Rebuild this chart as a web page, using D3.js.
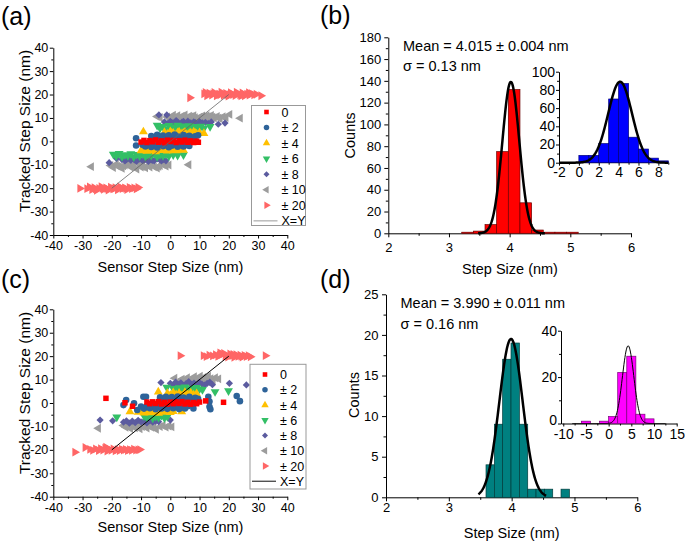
<!DOCTYPE html>
<html><head><meta charset="utf-8">
<script src="https://cdn.jsdelivr.net/npm/d3@7/dist/d3.min.js"></script>
<style>
body{margin:0;background:#fff;}
svg text{font-family:"Liberation Sans",Arial,sans-serif;fill:#000;}
</style></head><body>
<svg id="fig" width="685" height="541"></svg>
<script>
// ---------------- DATA ----------------
const seriesNames = ["0", "± 2", "± 4", "± 6", "± 8", "± 10", "± 20"];
const xyLine = [[-20, -20], [20, 20]];

// panel (a)
const a0 = [[-10,-0.3],[-9,0.4],[-8,-0.5],[-7,0.3],[-6,-0.2],[-5,0.6],[-4,-0.4],[-3,0.2],[-2,-0.6],[-1,0.5],[0,-0.1],[1,0.4],[2,-0.5],[3,0.3],[4,-0.3],[5,0.5],[6,-0.4],[7,0.2],[8,-0.5],[9,0.1],[9.6,-0.4]];
const a2 = [[-11.7,1.3],[-6.5,2.3],[-5.5,1.6],[-4.5,2.8],[-3.5,1.9],[-2.5,2.5],[-1.5,1.4],[-0.5,2.6],[0.5,1.8],[1.5,2.9],[2.5,2.1],[3.5,1.5],[4.5,2.7],[5.5,1.9],[6.5,2.4],[7.5,1.6],[8.5,2.2],[9.5,2.6],
  [-11.7,-1.8],[-9.5,-1.5],[-8.5,-2.2],[-7.5,-1.3],[-6.5,-2.4],[-5.5,-1.7],[-4.5,-2.6],[-3.5,-1.4],[-2.5,-2.1],[-1.5,-1.6],[-0.5,-2.5],[0.5,-1.9],[1.5,-1.3],[2.5,-2.3],[3.5,-1.6],[4.5,-2.2],[5.5,-1.5],[6.5,-2.0]];
const a4 = [[-9.2,4.1],[-2,3.8],[-1,3.1],[0,4.2],[0.5,3.5],[1,3.5],[2,2.9],[2.5,3.7],[3,4.0],[4,3.3],[4.5,3.5],[5,3.9],[6,2.8],[6.5,3.4],[7,3.6],[8,4.1],[8.5,3.5],[9,3.2],[10,3.7],[11.5,3.4],
  [-10,-4],[-9,-3.4],[-8.5,-3.7],[-8,-4.2],[-7,-3.3],[-6.5,-3.6],[-6,-3.9],[-5,-4.4],[-4.5,-3.9],[-4,-3.5],[-3,-3.9],[-2.5,-3.6],[-2,-3.2],[-1,-4.1],[-0.5,-3.8],[0,-3.6],[1,-3.3],[1.5,-3.7],[2,-4.0],[3,-3.6],[4.5,-3.8]];
const a6 = [[-4.5,6.8],[-3.5,5.6],[-2.5,6.3],[-1.5,5.2],[-0.5,6.7],[0,6],[0.5,5.5],[1.5,6.1],[2,5.8],[2.5,6.9],[3.5,5.4],[4,6.5],[4.5,6.2],[5.5,5.7],[6,5.9],[6.5,6.6],[7.5,5.3],[8,6.3],[8.5,6.1],[9.5,5.8],[10,5.9],[10.5,6.4],[11.5,5.6],[13.6,6.3],
  [-19.5,-5.5],[-18.5,-6.2],[-17.5,-5.2],[-16.5,-6.5],[-15.5,-5.7],[-14.5,-6.1],[-13.5,-5.3],[-12.5,-6.6],[-11.5,-5.6],[-10.5,-6.2],[-9.5,-5.4],[-8.5,-6.4],[-7.5,-5.8],[-6.5,-6.0],[-5.5,-5.3],[-4.5,-6.5],[-3.5,-5.7],[-2.5,-6.1],[-1.5,-5.5],[-0.5,-6.3],[1,-5.8],[2.5,-6],[4.5,-5.8]];
const a8 = [[-3.9,11.3],[-1.2,11.3],[-2,8.3],[-1,7.6],[0,8.5],[0.5,8],[1,7.8],[2,8.9],[2.5,8.2],[3,7.5],[4,8.2],[4.5,8.5],[5,7.7],[6,8.6],[6.5,7.6],[7,7.9],[8,8.3],[8.5,8],[9,7.6],[10,8.4],[10.5,7.8],[11,7.9],[12,8.1],[13,7.7],[14,8.3],[16.4,7.3],[18.7,7.8],
  [-20.9,-9.1],[-18.4,-7.3],[-16.5,-7.8],[-15.5,-8.4],[-15,-7.8],[-14.5,-7.3],[-13.5,-8.1],[-12.5,-7.6],[-12,-8.1],[-11.5,-8.5],[-10.5,-7.5],[-9.5,-8.2],[-9,-8],[-8.5,-7.7],[-7.5,-8.6],[-6.5,-7.9],[-6,-8.1],[-5.5,-8.3],[-4.5,-7.5],[-3.5,-8],[-3,-8.3],[-2.5,-7.8],[-1.5,-8.3]];
const a10 = [[-4.5,10.6],[-3.5,10.2],[-1,10.4],[0,9.6],[0.5,10.5],[1,11.2],[2,10.1],[2.5,11],[3,9.5],[4,10.8],[4.5,9.9],[5,11.3],[6,9.8],[6.5,10.8],[7,10.5],[8,11.0],[8.5,10.1],[9,9.6],[10,10.3],[10.5,9.9],[11,10.9],[12,9.7],[12.5,11],[13,10.4],[14,11.1],[14.5,10.3],[15,10.0],[16,10.6],[16.5,9.9],[17,9.8],[18,10.5],[19,10.2],[20.3,11.5],[23.9,9.9],
  [-27,-10.8],[-20.4,-10.3],[-19.5,-11.2],[-18.5,-9.8],[-18,-10.6],[-17.5,-10.8],[-16.5,-11.5],[-16,-10.5],[-15.5,-10.1],[-14.5,-9.6],[-13.5,-11],[-13,-10.2],[-12.5,-10.4],[-11.5,-11.8],[-10.5,-9.9],[-10,-11],[-9.5,-10.7],[-8.5,-11.3],[-7.5,-10.2],[-7,-11],[-6.5,-9.7],[-5.5,-10.9],[-4.5,-11.4],[-4,-10.7],[-3.5,-10.3],[-2.5,-9.9],[-1.5,-10.6],[-0.5,-10.1],[6.3,-10]];
const a20 = [[6.7,18.6],[11.5,20.3],[12,20.9],[12.5,19.5],[13.3,20.6],[14.2,19.8],[14.6,20.3],[15,20.9],[15.8,19.4],[16.6,20.2],[17,19.9],[17.4,21.0],[18.2,19.7],[19,20.5],[19.4,19.9],[19.8,19.3],[20.2,19.9],[20.6,20.8],[21.4,20.0],[22.2,19.6],[22.6,21],[23,20.4],[23.8,19.9],[24.2,19.4],[24.6,20.7],[25,20.1],[25.4,19.5],[26.2,20.2],[26.8,20.8],[27,19.8],[27.8,20.4],[28.6,19.9],[29.4,20.1],[31,19.5],
  [-30.9,-20.1],[-28.5,-20.2],[-27.6,-19.5],[-26.8,-20.6],[-26,-19.8],[-25.6,-20.3],[-25.2,-20.9],[-24.4,-20.1],[-23.6,-19.4],[-23.2,-20.1],[-22.8,-20.5],[-22,-19.9],[-21.6,-20.2],[-21.2,-20.8],[-20.4,-19.6],[-19.6,-20.3],[-19.2,-20.2],[-18.8,-19.8],[-18,-20.7],[-17.6,-20.1],[-17.2,-19.5],[-16.4,-20.2],[-15.6,-19.9],[-15.2,-20.1],[-14.8,-20.6],[-14,-19.7],[-13.2,-20.2],[-12.4,-19.9],[-11.6,-20.3],[-11,-19.7]];

// panel (c)
const c0 = [[-22,2],[-15.5,0.1],[-12.9,-1.4],[-8,0.4],[-7,-0.3],[-6,0.5],[-5,-0.2],[-4,0.6],[-3,-0.4],[-2,0.3],[-1,-0.5],[0,0.4],[1,-0.3],[2,0.5],[3,-0.2],[4,0.6],[5,-0.4],[6,0.3],[7,-0.5],[8,0.2],[9,-0.3],[10,0.4],[12.1,0.9],[18.2,0.3]];
const c2 = [[-15.1,1.3],[-9.2,2.7],[-8.3,2.7],[-12.4,-0.1],[-3.5,2.4],[-2.5,1.5],[-1.5,2.7],[-0.5,1.8],[0.5,2.5],[1.5,1.4],[2.5,2.8],[3.5,1.9],[4.5,2.3],[5.5,1.5],[6.5,2.6],[7.5,1.7],[8.5,2.2],[9.5,1.8],[13,2.7],[13.4,0.6],[22.7,3],[23.8,0.8],
  [-16,-0.9],[-11.3,-3],[-10,-1.5],[-9,-2.4],[-8,-1.3],[-7,-2.2],[-6,-1.6],[-5,-2.7],[-4,-1.4],[-3,-2.3],[-2,-1.7],[-1,-2.5],[0,-1.2],[1,-2.2],[2,-1.5],[3,-2.6],[4,-1.8],[5,-2.3],[6,-1.4],[7.9,-2.3],[13.4,-1.6],[13.7,-2.7]];
const c4 = [[-4.1,4.7],[-1,4.1],[0,3.4],[1,4.4],[2,3.6],[3,4.2],[4,3.2],[5,4.5],[6,3.7],[7,4.3],[8,3.5],[9,4],
  [-13.8,-3.7],[-11,-3.9],[-10,-3.2],[-9,-4.2],[-8,-3.4],[-7,-4.1],[-6,-3.3],[-5,-3.9],[-4,-4.3],[-3,-3.5],[-2,-3.9],[-1,-3.3],[0,-4],[1,-3.6],[3.9,-3.7]];
const c6 = [[-1.2,6.7],[1,6.2],[2,5.6],[3,6.5],[4,5.9],[5,6.8],[6,5.7],[7,6.3],[8,5.8],[9,6.6],[10,6],[11,5.7],[15.3,4.8],[19.9,5.2],
  [-18.3,-6],[-9,-5.5],[-8,-6.3],[-7,-5.4],[-6,-6.5],[-5,-5.7],[-4,-6.2],[-3,-5.3],[-2,-6.4],[-1,-5.8]];
const c8 = [[-3.2,8.7],[0,8.4],[0.9,7.6],[1.8,8.9],[2.7,7.8],[3.6,8.6],[4.5,7.4],[5.4,8.3],[6.3,9.1],[7.2,7.9],[8.1,8.5],[9,7.5],[9.9,8.8],[10.8,8.1],[11.7,7.6],[12.6,8.4],[13.5,8.9],[14.4,7.8],[20.2,8.4],[26,7.7],
  [-24,-7.3],[-19.7,-7.6],[-16,-8.2],[-15,-7.6],[-14,-8.6],[-13,-7.7],[-12,-8.4],[-11,-7.4],[-10,-8.1],[-9,-7.8],[-8,-8.5],[-7,-7.5],[-6,-8.2],[-5,-7.7],[-4,-8],[0,-7.3]];
const c10 = [[1.5,10.6],[3.2,9.4],[4,10.2],[5,9.1],[5.8,10.8],[6.6,9.6],[7.4,10.3],[7.8,9.2],[8.2,11.2],[9,9.8],[9.8,10.5],[10.2,11.4],[10.6,9.3],[11.4,10.9],[12.2,10.1],[12.6,9.2],[13,11.4],[13.8,10.4],[14.6,9.6],[15.4,10.8],[16.5,10.3],
  [-24.6,-10.8],[-16,-9.6],[-15.2,-10.4],[-14.4,-9.4],[-13.6,-10.9],[-12.8,-9.8],[-12,-10.6],[-11.2,-9.5],[-10.4,-11],[-9.6,-10.1],[-8.8,-9.4],[-8,-10.7],[-7.2,-9.9],[-6.4,-10.4],[-5.6,-9.6],[-4.8,-11.2],[-3.5,-10.1],[-2.5,-9.6],[-1.5,-10.3],[-0.5,-9.8],[0.5,-10.2]];
const c20 = [[3.4,20.2],[11.3,20.2],[12.3,19.8],[13.3,20.4],[14.5,20.1],[15.5,20.6],[16.3,19.9],[16.8,20.4],[17,21.4],[17.6,20.8],[18.3,21.2],[18.8,19.8],[19,20.3],[19.7,19.6],[20.4,20.9],[21.1,20.2],[21.5,20.7],[21.8,19.5],[22.5,20.6],[23.2,19.9],[23.9,20.4],[24.2,20.0],[24.6,19.6],[25.3,20.3],[26,19.8],[26.7,20.2],[27.4,19.7],[32.5,20.2],
  [-32.6,-21],[-29.1,-19],[-27.5,-19.8],[-26.5,-20.2],[-25.5,-19.6],[-24.5,-20.3],[-23.8,-19.5],[-23,-20.1],[-22.3,-19.3],[-22,-18.9],[-21.6,-20.5],[-20.9,-19.8],[-20.2,-20.2],[-19.5,-19.6],[-18.8,-20.4],[-18.1,-19.9],[-17.4,-20.3],[-16.7,-19.7],[-16,-20.1],[-15.3,-19.8],[-14.6,-20.3],[-13.9,-19.9],[-13.2,-20.2],[-12.5,-19.7],[-11.8,-20.1],[-11,-20],[-10.4,-19.9]];

// panel (b) histogram (bin left edges, bin width, counts) and Gaussian fit parameters
const bBins = [3.21, 3.402, 3.594, 3.786, 3.978, 4.170, 4.362, 4.554, 4.746, 4.938];
const bWidth = 0.192;
const bCounts = [1, 2, 8, 75, 132, 28, 3, 1, 1, 1];
const bFit = {mean: 4.02, sigma: 0.14, amp: 139, from: 3.48, to: 4.58};
const bText = ["Mean = 4.015 ± 0.004 nm", "σ = 0.13 nm"];
// inset (b)
const biBins = [-2, -1, 0, 1, 2, 3, 4, 5, 6, 7, 8];
const biWidth = 1;
const biCounts = [0, 0, 8, 8, 21, 70, 87, 28, 15, 5, 2];
const biFit = {mean: 4.15, sigma: 1.2, amp: 89, from: -2, to: 9};

// panel (d)
const dBins = [3.592, 3.725, 3.857, 3.990, 4.123, 4.256, 4.388, 4.521, 4.654, 4.786];
const dWidth = 0.1327;
const dCounts = [4, 9, 17, 19, 9, 1, 1, 1, 0, 1];
const dFit = {mean: 3.99, sigma: 0.185, amp: 19.5, from: 3.47, to: 4.55};
const dText = ["Mean = 3.990 ± 0.011 nm", "σ = 0.16 nm"];
// inset (d)
const diBins = [-8, -6, -4, -2, 0, 2, 4, 6, 8, 10];
const diWidth = 2;
const diCounts = [0, 1, 0, 1, 3, 22, 29, 4, 2, 0];
const diFit = {mean: 4.3, sigma: 1.25, amp: 33.5, from: -8, to: 12.5};

// tick values
const scatTicks = [-40, -30, -20, -10, 0, 10, 20, 30, 40];
const histXTicks = [2, 3, 4, 5, 6];
const bYTicks = [0, 20, 40, 60, 80, 100, 120, 140, 160, 180];
const dYTicks = [0, 5, 10, 15, 20, 25];
const biXTicks = [-2, 0, 2, 4, 6, 8];
const biYTicks = [0, 20, 40, 60, 80, 100];
const diXTicks = [-10, -5, 0, 5, 10, 15];
const diYTicks = [0, 20, 40];

// ---------------- STYLE ----------------
const styles = [
  {type: d3.symbolSquare, rot: 0, color: "#ff0000", size: 30},
  {type: d3.symbolCircle, rot: 0, color: "#2e6399", size: 34},
  {type: d3.symbolTriangle, rot: 0, color: "#ffc000", size: 34},
  {type: d3.symbolTriangle, rot: 180, color: "#33bf66", size: 34},
  {type: d3.symbolSquare, rot: 45, color: "#5b5b9f", size: 26},
  {type: d3.symbolTriangle, rot: -90, color: "#9c9c9c", size: 34},
  {type: d3.symbolTriangle, rot: 90, color: "#ff6666", size: 34}
];

const svg = d3.select("#fig");
const FONT = 13;

function minorVals(major, step) {
  const out = [];
  for (let i = 0; i < major.length - 1; i++) out.push(major[i] + step);
  return out;
}

function axes(x, y, o) {
  const fs = o.fs || FONT;
  const y0 = y.range()[0], x0 = x.range()[0];
  svg.append("g").attr("transform", `translate(0,${y0})`)
    .call(d3.axisBottom(x).tickValues(o.xMinor).tickSize(o.minor).tickSizeOuter(0).tickFormat(""))
    .select(".domain").remove();
  svg.append("g").attr("transform", `translate(${x0},0)`)
    .call(d3.axisLeft(y).tickValues(o.yMinor).tickSize(o.minor).tickSizeOuter(0).tickFormat(""))
    .select(".domain").remove();
  const gx = svg.append("g").attr("transform", `translate(0,${y0})`)
    .call(d3.axisBottom(x).tickValues(o.xMajor).tickSize(o.major).tickSizeOuter(0).tickPadding(o.xpad).tickFormat(d => String(d)));
  gx.selectAll("text").attr("font-size", fs);
  if (o.xEnd !== undefined) gx.select(".domain").attr("d", `M${x0},0H${o.xEnd}`);
  const gy = svg.append("g").attr("transform", `translate(${x0},0)`)
    .call(d3.axisLeft(y).tickValues(o.yMajor).tickSize(o.major).tickSizeOuter(0).tickPadding(o.ypad).tickFormat(d => String(d)));
  gy.selectAll("text").attr("font-size", fs);
  if (o.yLabelShift) gy.selectAll("text").attr("dy", (d, i) => d === 0 ? o.yLabelShift : "0.32em");
  svg.selectAll(".tick line").attr("stroke", "#000");
}

function title(txt, x, y, rot, fs) {
  svg.append("text").attr("transform", `translate(${x},${y}) rotate(${rot})`)
    .attr("text-anchor", "middle").attr("font-size", fs || 14.5).text(txt);
}

function scatterPanel(sets, yTop, yBot, lineColor, lineW, leg) {
  const x = d3.scaleLinear().domain([-40, 40]).range([53.3, 287.3]);
  const y = d3.scaleLinear().domain([-40, 40]).range([yBot, yTop]);
  axes(x, y, {xMajor: scatTicks, xMinor: minorVals(scatTicks, 5), yMajor: scatTicks, yMinor: minorVals(scatTicks, 5), major: 3.5, minor: 2, xpad: 3, ypad: 1.5, fs: 12.5});
  for (let i = sets.length - 1; i >= 0; i--) {
    const st = styles[i];
    const sym = d3.symbol().type(st.type).size(st.size);
    svg.append("g").selectAll("path").data(sets[i]).join("path")
      .attr("d", sym)
      .attr("transform", d => `translate(${x(d[0])},${y(d[1])}) rotate(${st.rot})`)
      .attr("fill", st.color);
  }
  svg.append("path").datum(xyLine)
    .attr("d", d3.line().x(d => x(d[0])).y(d => y(d[1])))
    .attr("stroke", lineColor).attr("stroke-width", lineW).attr("fill", "none");
  const g = svg.append("g");
  g.append("rect").attr("x", leg.x).attr("y", leg.top).attr("width", leg.w).attr("height", leg.h)
    .attr("fill", "#fff").attr("stroke", "#999").attr("stroke-width", 1);
  seriesNames.forEach((n, i) => {
    const st = styles[i];
    const cy = leg.row0 + i * leg.dy;
    g.append("path").attr("d", d3.symbol().type(st.type).size(st.size * 0.7)())
      .attr("transform", `translate(${leg.x + 15},${cy}) rotate(${st.rot})`).attr("fill", st.color);
    g.append("text").attr("x", leg.x + 30).attr("y", cy + 4.5).attr("font-size", 12.5).text(n);
  });
  const ly = leg.row0 + 7 * leg.dy;
  g.append("line").attr("x1", leg.x + 2).attr("x2", leg.x + 26).attr("y1", ly).attr("y2", ly)
    .attr("stroke", lineColor === "#000" ? "#333" : "#aaa").attr("stroke-width", 1.2);
  g.append("text").attr("x", leg.x + 30).attr("y", ly + 4.5).attr("font-size", 12.5).text("X=Y");
  return {x, y};
}

function histPanel(x, y, bins, width, counts, fill, stroke, fit, fitW) {
  svg.append("g").selectAll("rect").data(bins).join("rect")
    .attr("x", (d) => x(d))
    .attr("width", d => x(d + width) - x(d))
    .attr("y", (d, i) => y(counts[i]))
    .attr("height", (d, i) => y(0) - y(counts[i]))
    .attr("fill", fill).attr("stroke", stroke).attr("stroke-width", 0.7);
  const xs = d3.range(fit.from, fit.to + 1e-9, (fit.to - fit.from) / 200);
  svg.append("path").datum(xs)
    .attr("d", d3.line().x(v => x(v)).y(v => y(fit.amp * Math.exp(-((v - fit.mean) ** 2) / (2 * fit.sigma ** 2)))))
    .attr("fill", "none").attr("stroke", "#000").attr("stroke-width", fitW);
}

// ---------------- PANEL (a) ----------------
scatterPanel([a0, a2, a4, a6, a8, a10, a20], 47.7, 235, "#666", 0.8,
  {x: 251.5, top: 105.5, w: 54, h: 120, row0: 112, dy: 15.55});
title("Sensor Step Size (nm)", 170.5, 272, 0, 14.5);
title("Tracked Step Size (nm)", 30, 131, -90, 15.5);

// ---------------- PANEL (c) ----------------
scatterPanel([c0, c2, c4, c6, c8, c10, c20], 309.3, 496.7, "#000", 1,
  {x: 250, top: 364.3, w: 56, h: 124.7, row0: 374.5, dy: 15.25});
title("Sensor Step Size (nm)", 170.5, 532, 0, 14.5);
title("Tracked Step Size (nm)", 30, 393, -90, 15.5);

// ---------------- PANEL (b) ----------------
{
  const x = d3.scaleLinear().domain([2, 6]).range([388.3, 631]);
  const y = d3.scaleLinear().domain([0, 180]).range([233.3, 37.3]);
  axes(x, y, {xMajor: histXTicks, xMinor: minorVals(histXTicks, 0.5), yMajor: bYTicks, yMinor: minorVals(bYTicks, 10), major: 4, minor: 2.5, xpad: 5, ypad: 3, fs: 13});
  histPanel(x, y, bBins, bWidth, bCounts, "#ff0000", "#6a0000", bFit, 2.5);
  title("Counts", 355, 135.5, -90, 14.5);
  title("Step Size (nm)", 510, 274, 0, 14.5);
  svg.append("text").attr("x", 403).attr("y", 50.5).attr("font-size", 14.5).text(bText[0]);
  svg.append("text").attr("x", 403).attr("y", 70.5).attr("font-size", 14.5).text(bText[1]);

  const xi = d3.scaleLinear().domain([-2, 9]).range([559, 668.3]);
  const yi = d3.scaleLinear().domain([0, 100]).range([162.7, 71.7]);
  axes(xi, yi, {xMajor: biXTicks, xMinor: minorVals(biXTicks, 1).concat([9]), yMajor: biYTicks, yMinor: minorVals(biYTicks, 10), major: 3, minor: 2, xpad: 1.5, ypad: 1, fs: 14, xEnd: 668.3});
  histPanel(xi, yi, biBins, biWidth, biCounts, "#0000ff", "#00007a", biFit, 2.5);
}

// ---------------- PANEL (d) ----------------
{
  const x = d3.scaleLinear().domain([2, 6]).range([386, 637.3]);
  const y = d3.scaleLinear().domain([0, 25]).range([497.3, 294.3]);
  axes(x, y, {xMajor: histXTicks, xMinor: minorVals(histXTicks, 0.5), yMajor: dYTicks, yMinor: minorVals(dYTicks, 2.5), major: 4, minor: 2.5, xpad: 1, ypad: 3.5, fs: 13});
  histPanel(x, y, dBins, dWidth, dCounts, "#008080", "#003c3c", dFit, 2.5);
  title("Counts", 359, 395, -90, 14.5);
  title("Step Size (nm)", 511.7, 538, 0, 14.5);
  svg.append("text").attr("x", 400.5).attr("y", 308).attr("font-size", 14.5).text(dText[0]);
  svg.append("text").attr("x", 400.5).attr("y", 328.5).attr("font-size", 14.5).text(dText[1]);

  const xi = d3.scaleLinear().domain([-10.5, 15]).range([561, 676.7]);
  const yi = d3.scaleLinear().domain([0, 40]).range([423.5, 330.7]);
  axes(xi, yi, {xMajor: diXTicks, xMinor: minorVals(diXTicks, 2.5), yMajor: diYTicks, yMinor: minorVals(diYTicks, 10), major: 3, minor: 2, xpad: 3, ypad: 1, fs: 14, yLabelShift: "0.05em"});
  histPanel(xi, yi, diBins, diWidth, diCounts, "#ff00ff", "#7a007a", diFit, 1);
}

// panel letters
[["(a)", 1, 25], ["(b)", 320, 24], ["(c)", 1, 288], ["(d)", 320, 288]].forEach(([t, x, y]) =>
  svg.append("text").attr("x", x).attr("y", y).attr("font-size", 25).text(t));
</script>
</body></html>
